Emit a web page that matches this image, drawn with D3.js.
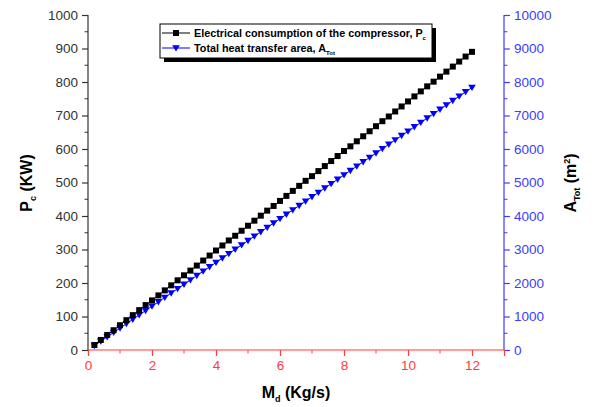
<!DOCTYPE html>
<html>
<head>
<meta charset="utf-8">
<script src="https://cdn.jsdelivr.net/npm/d3@7"></script>
<style>
body{margin:0;background:#fff;}
svg{display:block;font-family:"Liberation Sans",Arial,sans-serif;}
</style>
</head>
<body>
<svg id="chart" width="594" height="407"></svg>
<script>
const massFlow = [0.2,0.4,0.6,0.8,1.0,1.2,1.4,1.6,1.8,2.0,2.2,2.4,2.6,2.8,3.0,3.2,3.4,3.6,3.8,4.0,
  4.2,4.4,4.6,4.8,5.0,5.2,5.4,5.6,5.8,6.0,6.2,6.4,6.6,6.8,7.0,7.2,7.4,7.6,7.8,8.0,
  8.2,8.4,8.6,8.8,9.0,9.2,9.4,9.6,9.8,10.0,10.2,10.4,10.6,10.8,11.0,11.2,11.4,11.6,11.8,12.0];
const compressorPower = [15,30,45,59,74,89,104,119,134,148,163,178,193,208,223,237,252,267,282,297,
  312,327,341,356,371,386,401,416,430,445,460,475,490,505,519,534,549,564,579,594,
  608,623,638,653,668,683,697,712,727,742,757,772,787,801,816,831,846,861,876,890];
const totalArea = [131,261,392,522,653,784,914,1045,1175,1306,1437,1567,1698,1828,1959,2090,2220,2351,2481,2612,
  2743,2873,3004,3134,3265,3396,3526,3657,3787,3918,4049,4179,4310,4440,4571,4702,4832,4963,5093,5224,
  5355,5485,5616,5746,5877,6008,6138,6269,6399,6530,6661,6791,6922,7052,7183,7314,7444,7575,7705,7836];
const xTicks = [0,2,4,6,8,10,12];
const yLeftTicks = [0,100,200,300,400,500,600,700,800,900,1000];
const yRightTicks = [0,1000,2000,3000,4000,5000,6000,7000,8000,9000,10000];
const legendLabels = ["Electrical consumption of the compressor, P", "Total heat transfer area, A"];
const legendSubs = ["c", "Tot"];

const svg = d3.select("#chart");
const L = 88, R = 504, T = 15, B = 350;
const x = d3.scaleLinear().domain([0,13]).range([L,R]);
const yL = d3.scaleLinear().domain([0,1000]).range([B,T]);
const yR = d3.scaleLinear().domain([0,10000]).range([B,T]);

const red = "#ff3b3b", blue = "#3b3bff", dark = "#333";
const tickFont = "13.5px";

// minor ticks
const gMinor = svg.append("g");
d3.range(1,13,2).forEach(v=>{
  gMinor.append("line").attr("x1",x(v)).attr("x2",x(v)).attr("y1",B).attr("y2",B+3.5).attr("stroke",red);
});
d3.range(50,1000,100).forEach(v=>{
  gMinor.append("line").attr("x1",L).attr("x2",L-3.5).attr("y1",yL(v)).attr("y2",yL(v)).attr("stroke",dark);
});
d3.range(500,10000,1000).forEach(v=>{
  gMinor.append("line").attr("x1",R).attr("x2",R+3.5).attr("y1",yR(v)).attr("y2",yR(v)).attr("stroke",blue);
});

// axes
const axL = svg.append("g").attr("transform",`translate(${L},0)`)
  .call(d3.axisLeft(yL).tickValues(yLeftTicks).tickSize(6).tickPadding(4).tickFormat(d3.format("d")));
axL.selectAll("path,line").attr("stroke",dark).attr("stroke-width",1.2);
axL.selectAll("text").attr("fill",dark).style("font-size",tickFont).style("font-family","Liberation Sans, Arial, sans-serif");

const axR = svg.append("g").attr("transform",`translate(${R},0)`)
  .call(d3.axisRight(yR).tickValues(yRightTicks).tickSize(6).tickPadding(4).tickFormat(d3.format("d")));
axR.selectAll("path,line").attr("stroke",blue).attr("stroke-width",1.2);
axR.selectAll("text").attr("fill",blue).style("font-size",tickFont).style("font-family","Liberation Sans, Arial, sans-serif");

const axB = svg.append("g").attr("transform",`translate(0,${B})`)
  .call(d3.axisBottom(x).tickValues(xTicks.concat([13])).tickSize(6).tickPadding(4)
    .tickFormat(d=> d===13 ? "" : d3.format("d")(d)));
axB.selectAll("path,line").attr("stroke",red).attr("stroke-width",1.2);
axB.selectAll("text").attr("fill",red).style("font-size",tickFont).style("font-family","Liberation Sans, Arial, sans-serif");
axB.select(".domain").attr("d",`M${L},0H${R}`);
axL.select(".domain").attr("d",`M0,${B}V${T}`);
axR.select(".domain").attr("d",`M0,${B}V${T}`);

// series
const ptsP = massFlow.map((m,i)=>[m,compressorPower[i]]);
const ptsA = massFlow.map((m,i)=>[m,totalArea[i]]);
svg.append("path").datum(ptsP).attr("fill","none").attr("stroke","#000").attr("stroke-width",1)
  .attr("d",d3.line().x(d=>x(d[0])).y(d=>yL(d[1])));
svg.append("path").datum(ptsA).attr("fill","none").attr("stroke","#0000ff").attr("stroke-width",1)
  .attr("d",d3.line().x(d=>x(d[0])).y(d=>yR(d[1])));

const tri = (cx,cy,s)=>`M${cx-s},${cy-s*0.75}L${cx+s},${cy-s*0.75}L${cx},${cy+s*0.95}Z`;
svg.append("g").selectAll("path").data(ptsA).join("path")
  .attr("d",d=>tri(x(d[0]),yR(d[1]),3.8)).attr("fill","#0000ff");
svg.append("g").selectAll("rect").data(ptsP).join("rect")
  .attr("x",d=>x(d[0])-3).attr("y",d=>yL(d[1])-3).attr("width",6).attr("height",6).attr("fill","#000");

// legend
const lg = svg.append("g");
const lx = 160, ly = 24, lw = 272, lh = 34;
lg.append("rect").attr("x",lx+4).attr("y",ly+4).attr("width",lw).attr("height",lh).attr("fill","#000");
lg.append("rect").attr("x",lx).attr("y",ly).attr("width",lw).attr("height",lh).attr("fill","#fff").attr("stroke","#000").attr("stroke-width",1);
const rows = [ly+9, ly+24];
lg.append("line").attr("x1",lx+2).attr("x2",lx+30).attr("y1",rows[0]).attr("y2",rows[0]).attr("stroke","#000");
lg.append("rect").attr("x",lx+16-3).attr("y",rows[0]-3).attr("width",6).attr("height",6).attr("fill","#000");
lg.append("line").attr("x1",lx+2).attr("x2",lx+30).attr("y1",rows[1]).attr("y2",rows[1]).attr("stroke","#0000ff");
lg.append("path").attr("d",tri(lx+16,rows[1],3.8)).attr("fill","#0000ff");
legendLabels.forEach((t,i)=>{
  const tx = lg.append("text").attr("x",lx+34).attr("y",rows[i]+3.8)
    .style("font-size","10.8px").style("font-weight","bold").attr("fill","#000");
  tx.append("tspan").text(t);
  tx.append("tspan").text(legendSubs[i]).attr("dy",3).style("font-size","6px");
});

// axis titles
const xt = svg.append("text").attr("x",(L+R)/2).attr("y",398).attr("text-anchor","middle")
  .style("font-size","16px").style("font-weight","bold").attr("fill","#000");
xt.append("tspan").text("M");
xt.append("tspan").text("d").attr("dy",4).style("font-size","9px");
xt.append("tspan").text(" (Kg/s)").attr("dy",-4);

const ylt = svg.append("text").attr("transform",`translate(32,183) rotate(-90)`).attr("text-anchor","middle")
  .style("font-size","16px").style("font-weight","bold").attr("fill","#000");
ylt.append("tspan").text("P");
ylt.append("tspan").text("c").attr("dy",4).style("font-size","9px");
ylt.append("tspan").text(" (KW)").attr("dy",-4);

const yrt = svg.append("text").attr("transform",`translate(576,183) rotate(-90)`).attr("text-anchor","middle")
  .style("font-size","16px").style("font-weight","bold").attr("fill","#000");
yrt.append("tspan").text("A");
yrt.append("tspan").text("Tot").attr("dy",4).style("font-size","9px");
yrt.append("tspan").text(" (m").attr("dy",-4);
yrt.append("tspan").text("2").attr("dy",-6).style("font-size","9px");
yrt.append("tspan").text(")").attr("dy",6);
</script>
</body>
</html>
